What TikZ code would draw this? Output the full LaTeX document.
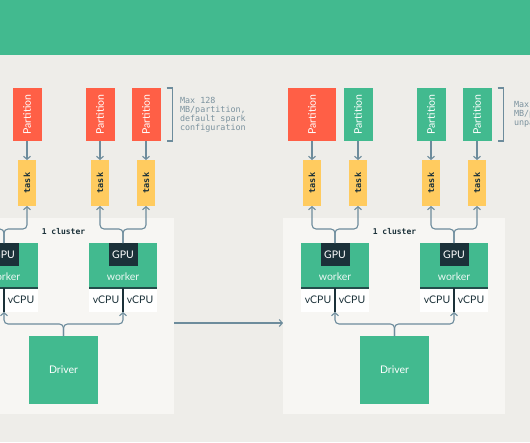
\documentclass[tikz,border=0pt]{standalone}
\usepackage{fontspec}
\setmainfont{Lato}
\setmonofont{DejaVu Sans Mono}
\usetikzlibrary{arrows.meta}

\definecolor{bgcol}{HTML}{EEEDE9}
\definecolor{brand}{HTML}{42BA8F}
\definecolor{clustercol}{HTML}{F7F6F3}
\definecolor{partred}{HTML}{FF5F46}
\definecolor{taskyellow}{HTML}{FFCB5F}
\definecolor{inkdark}{HTML}{1B3139}
\definecolor{linkcol}{HTML}{6D8C9C}
\definecolor{notecol}{HTML}{7B929E}

\tikzset{
	boxbase/.style={rectangle, inner sep=0pt, outer sep=0pt},
	partbox/.style={boxbase, fill=partred, minimum width=29, minimum height=53},
	partgreen/.style={partbox, fill=brand},
	parttext/.style={rotate=90, text=white, font=\fontsize{10.5}{12}\selectfont},
	taskbox/.style={boxbase, fill=taskyellow, minimum width=18, minimum height=46},
	tasktext/.style={rotate=90, text=inkdark, font=\ttfamily\bfseries\fontsize{8.5}{10}\selectfont},
	clusterbox/.style={boxbase, fill=clustercol, minimum height=196},
	workerbox/.style={boxbase, fill=brand, minimum width=68, minimum height=45},
	gpubox/.style={boxbase, fill=inkdark, text=white, minimum width=29, minimum height=23,
		font=\fontsize{10.5}{12}\selectfont, anchor=north},
	cpubox/.style={boxbase, fill=white, text=inkdark, minimum width=34, minimum height=24,
		font=\fontsize{10.5}{12}\selectfont},
	wtext/.style={text=white!90!brand, font=\fontsize{10.5}{12}\selectfont},
	driverbox/.style={boxbase, fill=brand, text=white, minimum width=69, minimum height=68,
		font=\fontsize{10.5}{12}\selectfont},
	link/.style={draw=linkcol, line width=1.1pt},
	linkarrow/.style={link, rounded corners=4pt, -{Straight Barb[length=3pt,width=7pt]}},
	sepline/.style={draw=inkdark, line width=1.1pt},
	baseline/.style={draw=inkdark!80!brand, line width=1.5pt},
	note/.style={text=notecol, align=left, anchor=west, font=\ttfamily\fontsize{8.4}{9}\selectfont},
	clustertext/.style={text=inkdark, font=\ttfamily\bfseries\fontsize{8}{9}\selectfont}
}

\begin{document}
\begin{tikzpicture}[x=1pt, y=-1pt]
	\useasboundingbox (0,0) rectangle (530,442);
	\clip (0,0) rectangle (530,442);
	\fill[bgcol] (0,0) rectangle (530,442);
	\fill[brand] (0,0) rectangle (530,55);

	% clusters
	\node[clusterbox, minimum width=234] (lcl) at (57,316) {};
	\node[clusterbox, minimum width=222] (rcl) at (394,316) {};
	\node[clustertext] at (63.5,232) {1 cluster};
	\node[clustertext] at (394.5,232) {1 cluster};

	% left: partitions
	\node[partbox] (lp1) at (27,114.5) {};
	\node[partbox] (lp2) at (100,114.5) {};
	\node[partbox] (lp3) at (146,114.5) {};
	\foreach \p in {lp1,lp2,lp3}
		\node[parttext] at (\p) {Partition};
	\draw[link] ([xshift=6pt]lp3.north east) -- ++(6,0) |- ([xshift=6pt]lp3.south east);
	\node[note] at ([xshift=16pt]lp3.east) {Max 128\\MB/partition,\\default spark\\configuration};

	% right: partitions
	\node[partbox, minimum width=48] (rp1) at (312,114.5) {};
	\node[partgreen] (rp2) at (358,114.5) {};
	\node[partgreen] (rp3) at (431,114.5) {};
	\node[partgreen] (rp4) at (477,114.5) {};
	\foreach \p in {rp1,rp2,rp3,rp4}
		\node[parttext] at (\p) {Partition};
	\draw[link] ([xshift=6pt]rp4.north east) -- ++(6,0) |- ([xshift=6pt]rp4.south east);
	\node[note] at ([xshift=19pt]rp4.east) {Max 128\\MB/partition,\\unpartitioned};

	% tasks
	\foreach \t/\x in {lt1/27, lt2/100, lt3/146, rt1/312, rt2/358, rt3/431, rt4/477}{
		\node[taskbox] (\t) at (\x,183) {};
		\node[tasktext] at (\t) {task};
	}
	\coordinate (lt0) at (-19,206);
	\foreach \p/\t in {lp1/lt1, lp2/lt2, lp3/lt3, rp1/rt1, rp2/rt2, rp3/rt3, rp4/rt4}
		\draw[linkarrow] (\p.south) -- (\t.north);

	% workers
	\foreach \w/\x in {lw1/4, lw2/123, rw1/335, rw2/454}{
		\node[workerbox] (\w) at (\x,265.5) {};
		\node[gpubox] (\w g) at (\w.north) {GPU};
		\node[wtext] at ([yshift=11pt]\w.south) {worker};
		\node[cpubox, anchor=north east] (\w a) at (\w.south) {vCPU};
		\node[cpubox, anchor=north west] (\w b) at (\w.south) {vCPU};
		\draw[baseline] (\w.south west) -- (\w.south east);
		\draw[sepline] (\w.south) -- (\w a.south east);
	}

	% workers to tasks
	\foreach \w/\ta/\tb in {lw1/lt0/lt1, lw2/lt2/lt3, rw1/rt1/rt2, rw2/rt3/rt4}{
		\draw[linkarrow] (\w g.north) -- ++(0,-14) -| (\ta.south);
		\draw[linkarrow] (\w g.north) -- ++(0,-14) -| (\tb.south);
	}

	% drivers
	\node[driverbox] (ldrv) at (63.5,370) {Driver};
	\node[driverbox] (rdrv) at (394.5,370) {Driver};
	\foreach \d/\wa/\wb in {ldrv/lw1/lw2, rdrv/rw1/rw2}{
		\draw[linkarrow] (\d.north) -- ++(0,-12) -| (\wa a.south east);
		\draw[linkarrow] (\d.north) -- ++(0,-12) -| (\wb a.south east);
	}

	% cluster to cluster
	\draw[linkarrow] ([yshift=-7pt]lcl.east) -- ([yshift=-7pt]rcl.west);
\end{tikzpicture}
\end{document}
